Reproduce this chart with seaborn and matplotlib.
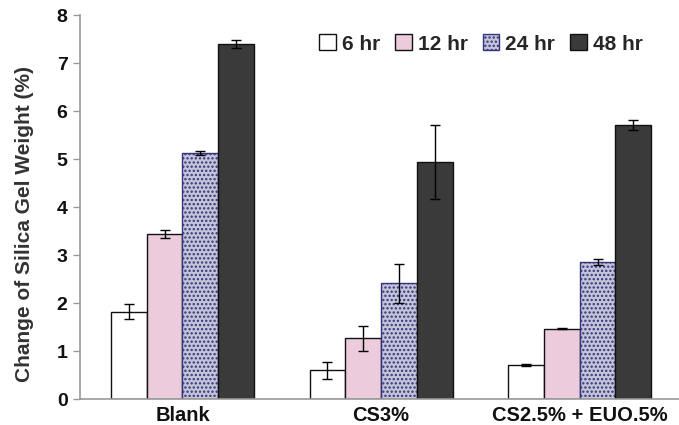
import matplotlib
matplotlib.use("Agg")
import matplotlib.pyplot as plt
import seaborn as sns
import pandas as pd
import numpy as np

categories = ["Blank", "CS3%", "CS2.5% + EUO.5%"]
times = ["6 hr", "12 hr", "24 hr", "48 hr"]
means_6 = [1.82, 0.60, 0.71]
means_12 = [3.44, 1.27, 1.46]
means_24 = [5.13, 2.41, 2.85]
means_48 = [7.40, 4.94, 5.71]
err_6 = [0.15, 0.18, 0.02]
err_12 = [0.09, 0.26, 0.01]
err_24 = [0.04, 0.40, 0.06]
err_48 = [0.08, 0.77, 0.10]
yticks = [0, 1, 2, 3, 4, 5, 6, 7, 8]

means = [means_6, means_12, means_24, means_48]
errs = [err_6, err_12, err_24, err_48]

rows = []
for t, m in zip(times, means):
    for c, v in zip(categories, m):
        rows.append({"cat": c, "time": t, "val": v})
df = pd.DataFrame(rows)

sns.set_theme(style="white")
plt.rcParams["font.family"] = ["Liberation Sans", "DejaVu Sans"]
plt.rcParams["font.weight"] = "bold"
plt.rcParams["hatch.linewidth"] = 1.1

fig = plt.figure(figsize=(6.79, 4.25), dpi=100)
ax = fig.add_axes([80 / 679, 26 / 425, 599 / 679, 384 / 425])

face = {"6 hr": "#ffffff", "12 hr": "#ebcbdc", "24 hr": "#c4c4d8", "48 hr": "#3a3a3a"}
sns.barplot(data=df, x="cat", y="val", hue="time", order=categories,
            hue_order=times, palette=face, width=0.72, errorbar=None,
            edgecolor="#111111", linewidth=1.0, saturation=1, ax=ax,
            legend=True)

hatch_edge = "#34347e"
bar_containers = list(ax.containers)
for ti, cont in enumerate(bar_containers):
    for ci, patch in enumerate(cont.patches):
        if times[ti] == "24 hr":
            patch.set_hatch("....")
            patch.set_edgecolor(hatch_edge)
        cx = patch.get_x() + patch.get_width() / 2
        ax.errorbar(cx, patch.get_height(), yerr=errs[ti][ci], color="black",
                    elinewidth=1.0, capsize=3.5, capthick=1.0, fmt="none", zorder=5)

ax.set_xlim(-0.516, 2.5)
ax.set_ylim(0, 8)
ax.set_yticks(yticks)
ax.set_yticklabels([str(v) for v in yticks], fontsize=14, fontweight="bold", color="#111111")
ax.set_xticklabels(categories, fontsize=14.5, fontweight="bold", color="#111111")
ax.tick_params(axis="x", length=0, pad=5)
ax.set_xticks([0.5, 1.5], minor=True)
ax.tick_params(axis="x", which="minor", length=4, width=1, color="#999999", direction="out")
ax.tick_params(axis="y", length=5, width=1, color="#999999", direction="out", pad=4, left=True)
ax.set_xlabel("")
ax.set_ylabel("Change of Silica Gel Weight (%)", fontsize=15, fontweight="bold",
              color="#333333")
ax.yaxis.set_label_coords(-0.077, 0.456)

for s in ["top", "right"]:
    ax.spines[s].set_visible(False)
for s in ["left", "bottom"]:
    ax.spines[s].set_color("#999999")
    ax.spines[s].set_linewidth(1.2)

handles, labels = ax.get_legend_handles_labels()
for h, t in zip(handles, labels):
    h.set_edgecolor("#111111")
    if t == "24 hr":
        h.set_hatch("....")
        h.set_edgecolor(hatch_edge)
ax.legend(handles, labels, loc="center", bbox_to_anchor=(481 / 679, 1 - 44 / 425),
          bbox_transform=fig.transFigure, ncol=4, frameon=False,
          prop={"weight": "bold", "size": 15}, handlelength=0.8, handleheight=0.8,
          handletextpad=0.3, columnspacing=0.7, borderpad=0)

fig.savefig("out.png", dpi=100)
